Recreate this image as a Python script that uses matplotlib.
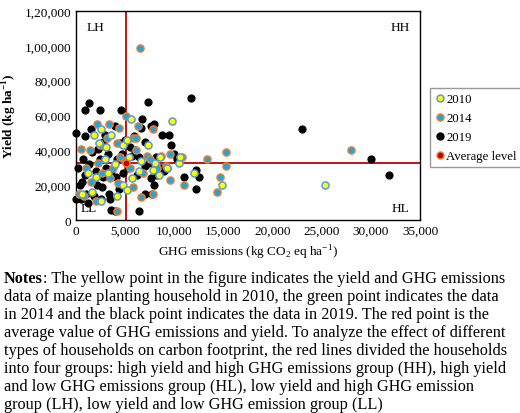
import matplotlib
matplotlib.use("Agg")
import matplotlib.pyplot as plt
from matplotlib.lines import Line2D

plt.rcParams["font.family"] = ["Liberation Serif", "DejaVu Serif"]
plt.rcParams["mathtext.fontset"] = "custom"
plt.rcParams["mathtext.rm"] = "Liberation Serif"
plt.rcParams["mathtext.bf"] = "Liberation Serif:bold"

# 2019 households (x = GHG emissions, y = yield)
x_2019 = [1300, 900, 2400, 4600, 7300, 11700, 6700, 7600, 7900, 4000, 0, 900, 1500, 2800, 3000,
          5000, 6000, 7000, 8800, 9500, 9700, 10300, 8600, 12200, 12500, 12200, 11000, 9300, 7900,
          7700, 7000, 6400, 4000, 3600, 4100, 3500, 2600, 1800, 1200, 500, 0, 400, 900, 200, 700,
          1300, 2000, 2400, 2800, 3100, 3600, 4200, 4700, 5500, 5700, 6400, 7400, 7600, 8200, 5300,
          4400, 3400, 2100, 1600, 2200, 3300, 4800, 6200, 7000, 8100, 9000, 10000, 23000, 30000,
          31800, 600, 1000, 2700, 4500, 5900, 6600]
y_2019 = [67000, 63000, 63000, 63000, 68000, 70000, 58000, 54000, 55000, 54000, 50000, 48000, 52000,
          45000, 49000, 46000, 40000, 45000, 49000, 49000, 43000, 35000, 30000, 29000, 25000, 18000,
          25000, 30000, 20000, 15000, 15000, 5000, 5000, 6000, 25000, 12000, 12000, 14000, 10000,
          12000, 12000, 20000, 26000, 30000, 35000, 32000, 28000, 35000, 25000, 30000, 28000, 35000,
          38000, 42000, 37000, 36000, 33000, 24000, 26000, 30000, 18000, 15000, 20000, 39000, 41000,
          38000, 27000, 26000, 31000, 36000, 28000, 38000, 52000, 35000, 26000, 22000, 15000, 19000,
          44000, 48000, 53000]

# 2014 households
x_2014 = [6500, 5100, 6300, 2100, 3400, 4400, 7800, 3200, 5800, 6100, 4200, 2400, 500, 1400, 7200,
          9600, 10800, 13300, 15300, 15300, 14600, 14300, 11000, 9600, 7800, 6600, 4200, 2000, 800,
          300, 1500, 2700, 3800, 4500, 5500, 6800, 8200, 9200, 4300, 5800, 28000, 1000, 2200, 3500,
          6100, 7500, 8600, 5000]
y_2014 = [99000, 60000, 54000, 55000, 55000, 53000, 52000, 47000, 47000, 47000, 44000, 43000, 41000,
          40000, 37000, 38000, 36000, 35000, 39000, 31000, 25000, 16000, 20000, 23000, 15000, 13000,
          5000, 11000, 14000, 15000, 22000, 27000, 30000, 36000, 30000, 27000, 30000, 31000, 21000,
          19000, 40000, 30000, 33000, 24000, 40000, 35000, 37000, 34000]

# 2010 households
x_2010 = [9800, 5600, 2600, 1800, 3600, 4800, 2300, 3100, 5200, 7300, 8500, 8000, 10500, 8400, 9300,
          6400, 5700, 4800, 5200, 4200, 2500, 1600, 600, 14900, 25300, 3000, 4000, 5400, 6600, 7800,
          1200, 2000, 3300, 12000, 10600]
y_2010 = [57000, 58000, 52000, 49000, 49000, 43000, 44000, 42000, 46000, 43000, 36000, 33000, 33000,
          26000, 30000, 28000, 24000, 20000, 17000, 14000, 11000, 16000, 15000, 20000, 20000, 35000,
          32000, 36000, 34000, 29000, 27000, 25000, 27000, 27000, 36000]

avg_x, avg_y = 5100, 32500

y_ticks = [0, 20000, 40000, 60000, 80000, 100000, 120000]
y_tick_labels = ["0", "20,000", "40,000", "60,000", "80,000", "1,00,000", "1,20,000"]
x_ticks = [0, 5000, 10000, 15000, 20000, 25000, 30000, 35000]

notes_lines = [
    ": The yellow point in the figure indicates the yield and GHG emissions",
    "data of maize planting household in 2010, the green point indicates the data",
    "in 2014 and the black point indicates the data in 2019. The red point is the",
    "average value of GHG emissions and yield. To analyze the effect of different",
    "types of households on carbon footprint, the red lines divided the households",
    "into four groups: high yield and high GHG emissions group (HH), high yield",
    "and low GHG emissions group (HL), low yield and high GHG emission",
    "group (LH), low yield and low GHG emission group (LL)",
]

fig = plt.figure(figsize=(5.2, 4.14), dpi=100)
ax = fig.add_axes([0.146, 0.466, 0.662, 0.505])

ms = 26
ax.scatter(x_2019, y_2019, s=ms, c="black", edgecolors="black", linewidths=0.8, zorder=3, clip_on=False)
ax.scatter(x_2014, y_2014, s=ms, c="#1aa7e0", edgecolors="#ed7d31", linewidths=1.1, zorder=4, clip_on=False)
ax.scatter(x_2010, y_2010, s=ms, c="#ffff00", edgecolors="#5b9bd5", linewidths=1.1, zorder=5, clip_on=False)
ax.axvline(avg_x, color="#c00000", lw=1.3, zorder=2)
ax.axhline(avg_y, color="#c00000", lw=1.3, zorder=2)
ax.scatter([avg_x], [avg_y], s=ms, c="#c00000", edgecolors="#ed7d31", linewidths=1.1, zorder=6)

ax.set_xlim(0, 35000)
ax.set_ylim(0, 120000)
ax.set_xticks(x_ticks)
ax.set_xticklabels([f"{v:,}" for v in x_ticks])
ax.set_yticks(y_ticks)
ax.set_yticklabels(y_tick_labels)
ax.tick_params(length=0, labelsize=9.5)
for s in ax.spines.values():
    s.set_linewidth(1.0)

ax.set_xlabel(r"GHG emissions (kg CO$_2$ eq ha$^{-1}$)", fontsize=9.5)
ax.set_ylabel(r"Yield (kg ha$^{\mathbf{-1}}$)", fontsize=9.5, fontweight="bold")

ax.text(0.03, 0.95, "LH", transform=ax.transAxes, fontsize=9.5, va="top")
ax.text(0.97, 0.95, "HH", transform=ax.transAxes, fontsize=9.5, va="top", ha="right")
ax.text(0.015, 0.03, "LL", transform=ax.transAxes, fontsize=9.5, va="bottom")
ax.text(0.97, 0.03, "HL", transform=ax.transAxes, fontsize=9.5, va="bottom", ha="right")

handles = [
    Line2D([], [], ls="", marker="o", ms=5, mfc="#ffff00", mec="#5b9bd5", mew=1.1, label="2010"),
    Line2D([], [], ls="", marker="o", ms=5, mfc="#1aa7e0", mec="#ed7d31", mew=1.1, label="2014"),
    Line2D([], [], ls="", marker="o", ms=5, mfc="black", mec="black", label="2019"),
    Line2D([], [], ls="", marker="o", ms=5, mfc="#c00000", mec="#ed7d31", mew=1.1, label="Average level"),
]
fig.legend(handles=handles, loc="upper left", bbox_to_anchor=(0.826, 0.785), fontsize=9.2,
           frameon=True, fancybox=False, edgecolor="#808080", handletextpad=0.1,
           borderpad=0.4, labelspacing=0.55, handlelength=0.8, borderaxespad=0)

# notes paragraph, left aligned
fig.canvas.draw()
renderer = fig.canvas.get_renderer()
fs = 11.7
left_px = 4
for i, line in enumerate(notes_lines):
    yf = 1 - (283 + i * 18.0) / 414
    x = left_px / 520
    if i == 0:
        t = fig.text(x, yf, "Notes", fontsize=fs, fontweight="bold", va="baseline")
        x += t.get_window_extent(renderer).width / 520
    fig.text(x, yf, line, fontsize=fs, va="baseline")

fig.savefig("out.png", dpi=100)
